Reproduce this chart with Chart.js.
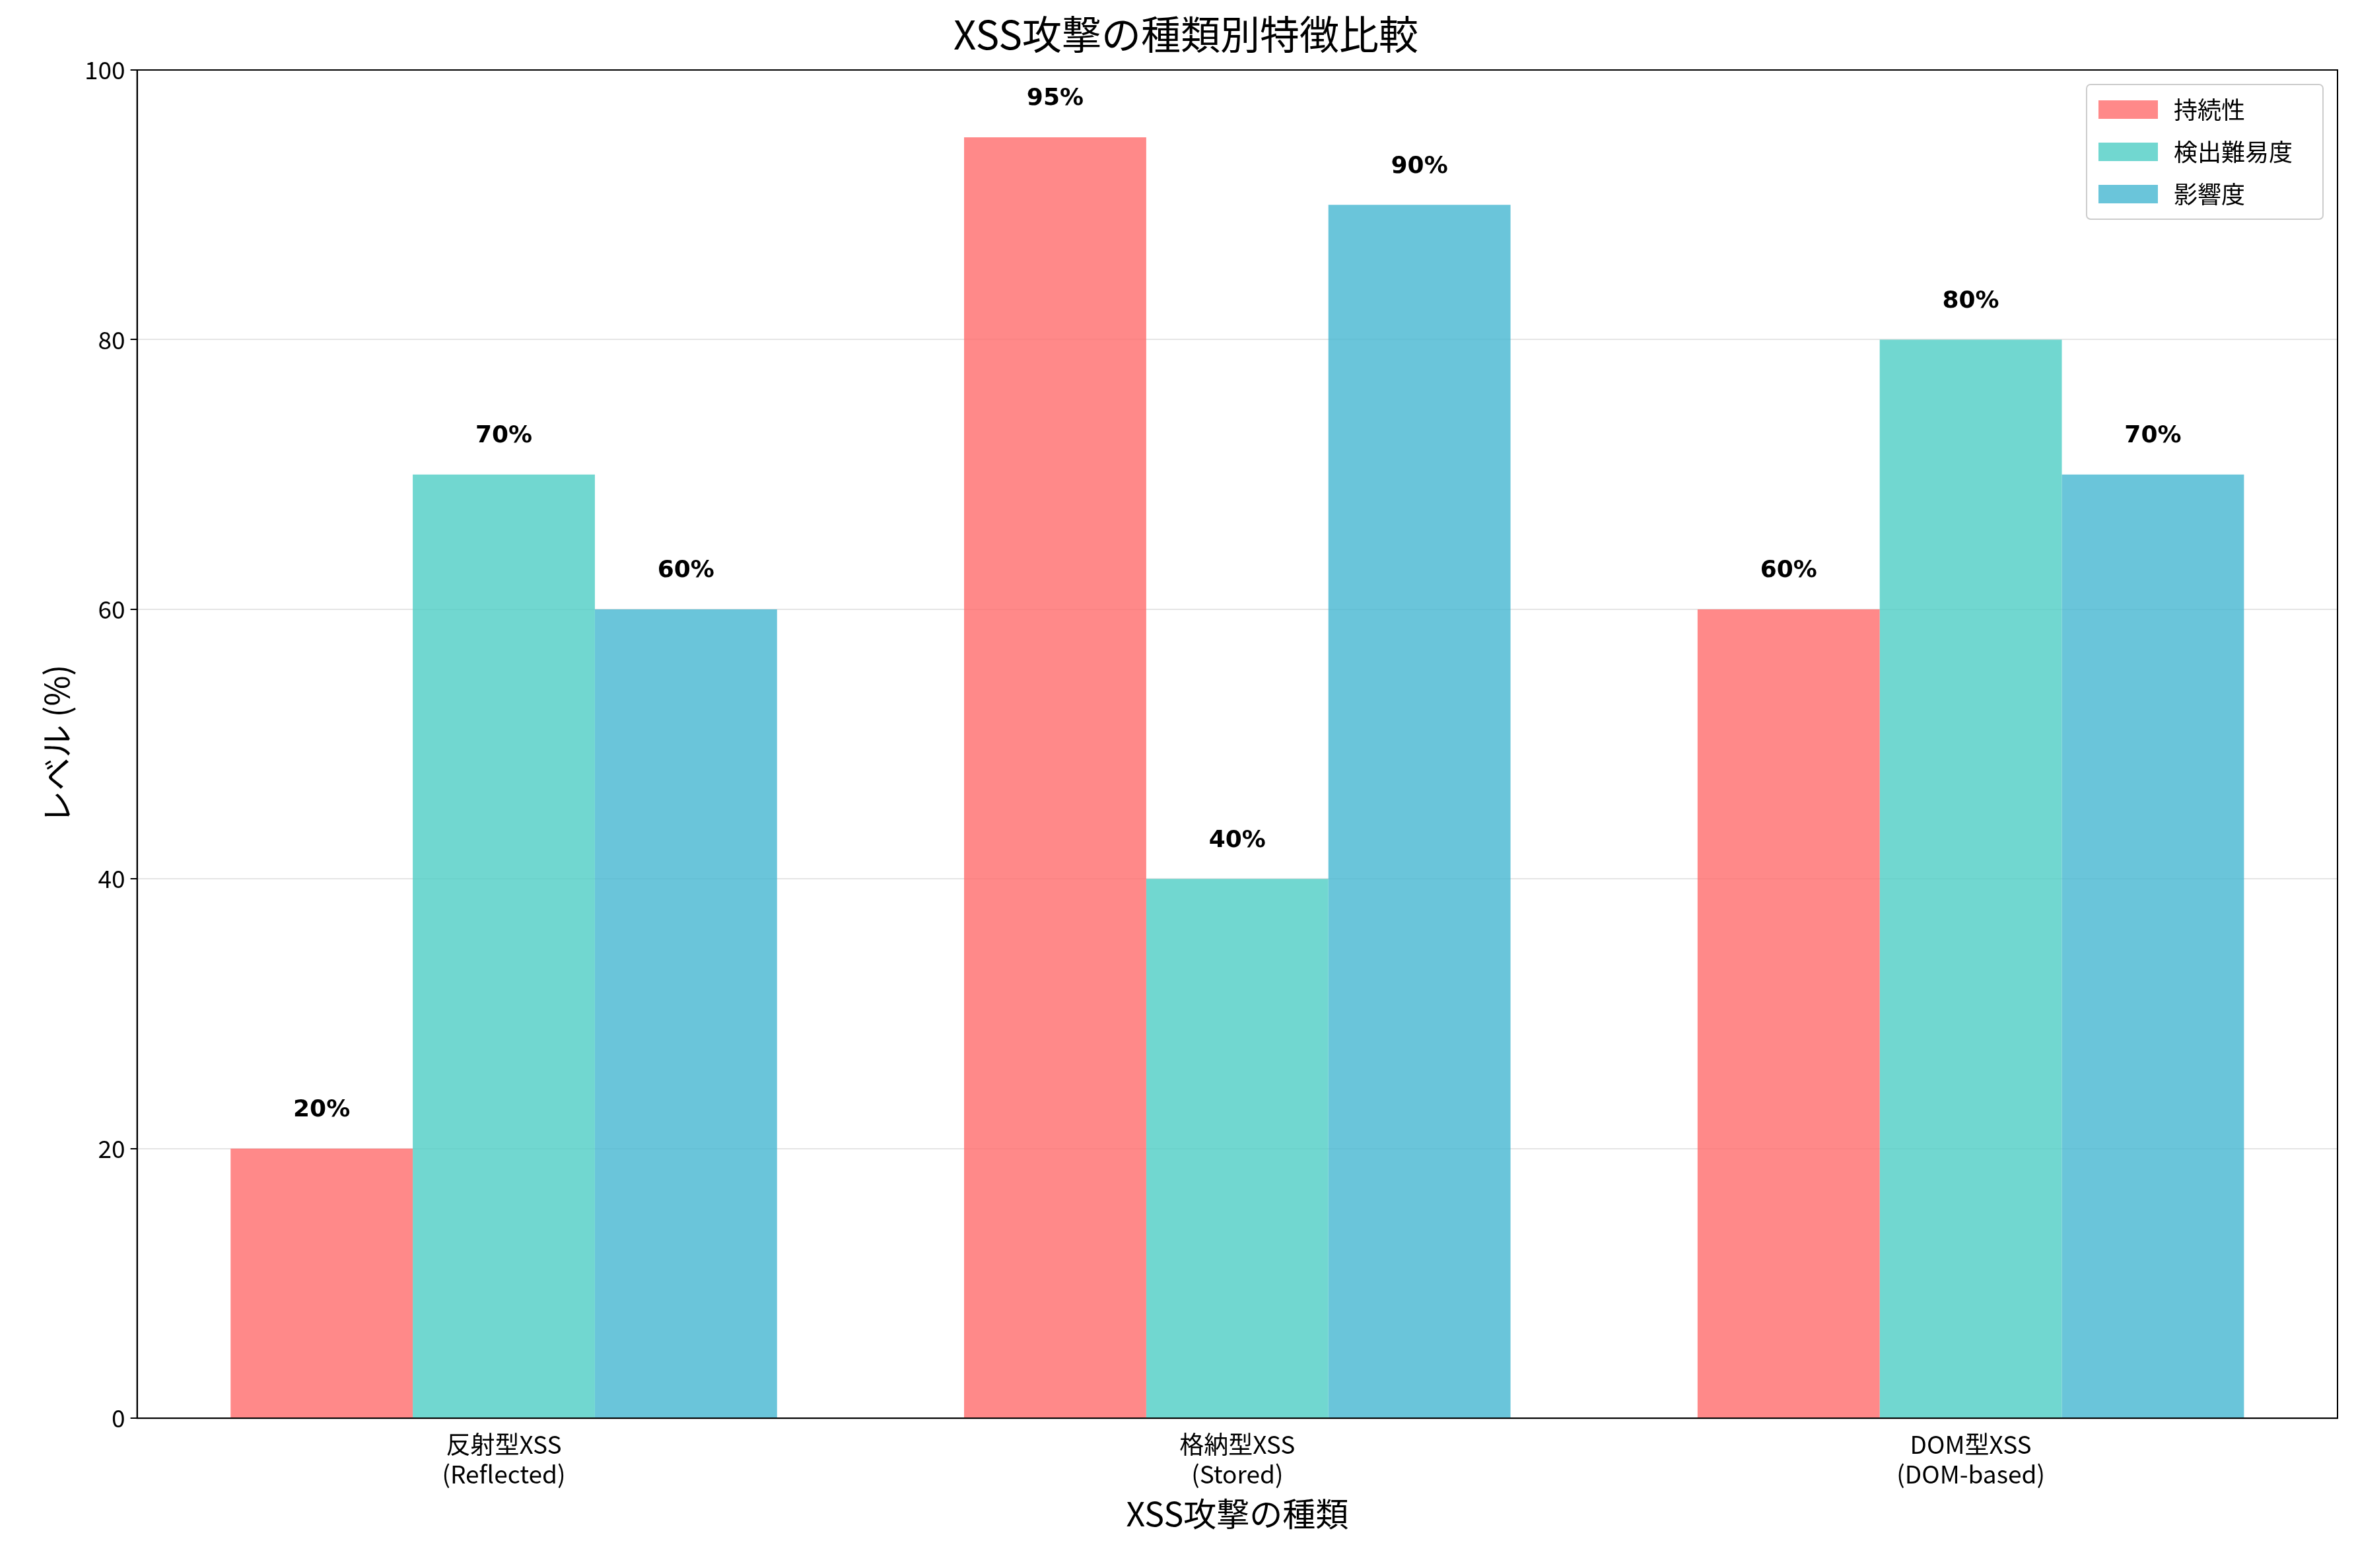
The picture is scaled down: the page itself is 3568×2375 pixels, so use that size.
<!DOCTYPE html>
<html>
<head>
<meta charset="utf-8">
<script src="https://cdn.jsdelivr.net/npm/chart.js@4"></script>
<style>
  html, body { margin: 0; padding: 0; background: #fff; }
</style>
</head>
<body>
<canvas id="c" width="3568" height="2375"></canvas>
<script>
const categories = [['反射型XSS', '(Reflected)'], ['格納型XSS', '(Stored)'], ['DOM型XSS', '(DOM-based)']];
const seriesNames = ['持続性', '検出難易度', '影響度'];
const persistence = [20, 95, 60];
const detection = [70, 40, 80];
const impact = [60, 90, 70];
const yTicks = [0, 20, 40, 60, 80, 100];

const FONT = "'Noto Sans CJK JP', 'DejaVu Sans', sans-serif";
const colors = ['rgba(255,107,107,0.8)', 'rgba(78,205,196,0.8)', 'rgba(69,183,209,0.8)'];

// value labels above each bar
const valueLabels = {
  id: 'valueLabels',
  afterDatasetsDraw(chart) {
    const ctx = chart.ctx;
    ctx.save();
    ctx.font = "bold 36px 'DejaVu Sans', sans-serif";
    ctx.fillStyle = '#000';
    ctx.textAlign = 'center';
    ctx.textBaseline = 'bottom';
    chart.data.datasets.forEach((ds, i) => {
      chart.getDatasetMeta(i).data.forEach((bar, j) => {
        ctx.fillText(ds.data[j] + '%', bar.x, bar.y - 40);
      });
    });
    ctx.restore();
  }
};

// matplotlib-like legend box in the upper right
const boxLegend = {
  id: 'boxLegend',
  afterDraw(chart) {
    const ctx = chart.ctx;
    const a = chart.chartArea;
    const w = 358, h = 204;
    const x = a.right - 22 - w, y = a.top + 22;
    ctx.save();
    ctx.fillStyle = 'rgba(255,255,255,0.8)';
    ctx.strokeStyle = '#ccc';
    ctx.lineWidth = 2;
    ctx.beginPath();
    ctx.roundRect(x, y, w, h, 6);
    ctx.fill();
    ctx.stroke();
    ctx.font = '36px ' + FONT;
    ctx.textBaseline = 'middle';
    seriesNames.forEach((n, i) => {
      const cy = y + 38 + i * 64;
      ctx.fillStyle = colors[i];
      ctx.fillRect(x + 18, cy - 14, 90, 28);
      ctx.fillStyle = '#000';
      ctx.fillText(n, x + 132, cy);
    });
    ctx.restore();
  }
};

new Chart(document.getElementById('c'), {
  type: 'bar',
  data: {
    labels: categories,
    datasets: [
      { label: seriesNames[0], data: persistence, backgroundColor: colors[0] },
      { label: seriesNames[1], data: detection, backgroundColor: colors[1] },
      { label: seriesNames[2], data: impact, backgroundColor: colors[2] },
    ]
  },
  options: {
    responsive: false,
    animation: false,
    devicePixelRatio: 1,
    layout: { padding: { left: 52, right: 28, top: 16, bottom: 48 } },
    datasets: { bar: { categoryPercentage: 0.745, barPercentage: 1.0 } },
    plugins: {
      legend: { display: false },
      tooltip: { enabled: false },
      title: {
        display: true,
        text: 'XSS攻撃の種類別特徴比較',
        font: { family: FONT, size: 60, weight: 'normal' },
        color: '#000',
        padding: { top: 0, bottom: 18 }
      }
    },
    scales: {
      x: {
        grid: { display: false, drawTicks: true, tickLength: 10 },
        border: { color: '#000', width: 2 },
        ticks: { color: '#000', font: { family: FONT, size: 37 }, padding: 8 },
        title: { display: true, text: 'XSS攻撃の種類', color: '#000', font: { family: FONT, size: 50 }, padding: { top: 0 } }
      },
      y: {
        min: 0, max: 100,
        afterBuildTicks: (s) => { s.ticks = yTicks.map(v => ({ value: v })); },
        grid: { color: 'rgba(0,0,0,0.1)', lineWidth: 2, tickLength: 10, tickColor: '#000' },
        border: { color: '#000', width: 2 },
        ticks: { color: '#000', font: { family: FONT, size: 37 }, padding: 8 },
        title: { display: true, text: 'レベル (%)', color: '#000', font: { family: FONT, size: 50 } }
      }
    }
  },
  plugins: [valueLabels, boxLegend, {
    id: 'frame',
    afterDraw(chart) {
      const a = chart.chartArea, ctx = chart.ctx;
      ctx.save();
      ctx.strokeStyle = '#000';
      ctx.lineWidth = 2;
      ctx.strokeRect(a.left, a.top, a.right - a.left, a.bottom - a.top);
      ctx.restore();
    }
  }]
});
</script>
</body>
</html>
